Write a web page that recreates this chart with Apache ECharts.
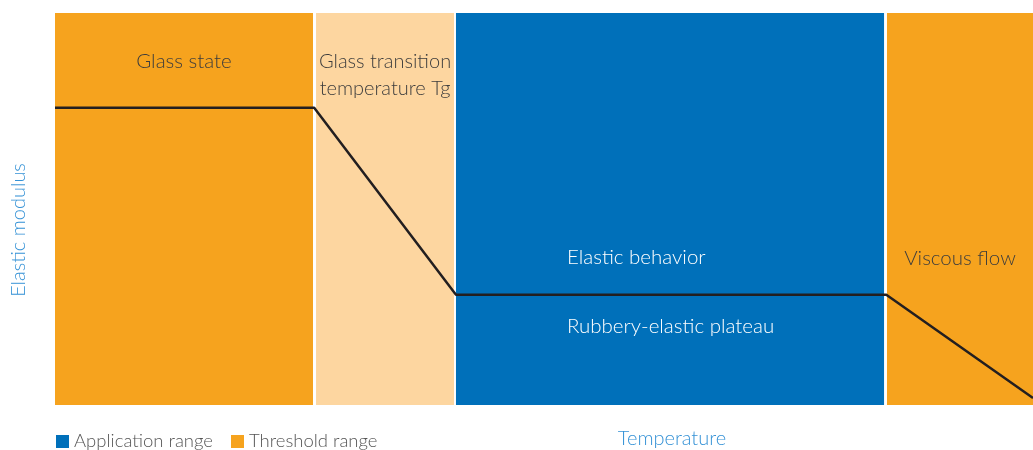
<!DOCTYPE html>
<html><head><meta charset="utf-8">
<script src="https://cdn.jsdelivr.net/npm/echarts@6/dist/echarts.min.js"></script>
<style>html,body{margin:0;padding:0;background:#fff}#c{width:1033px;height:450px}</style>
</head><body><div id="c"></div>
<script>
// Regions along temperature axis (0-100 scale)
const regionNames = ['Glass state', 'Glass transition\ntemperature Tg', 'Elastic behavior\n\n\nRubbery-elastic plateau', 'Viscous flow'];
const regionStart = [0, 26.69, 41.0, 85.07];
const regionEnd = [26.38, 40.80, 84.77, 100];
const regionGroup = ['Threshold range', 'Threshold range', 'Application range', 'Threshold range'];
// Elastic modulus curve
const curveTemp = [0, 26.5, 41.0, 85.0, 100];
const curveModulus = [75.8, 75.8, 28.1, 28.1, 1.8];

const FONT = 'Lato';
const orange = '#F6A31E', lightOrange = '#FDD6A0', blue = '#0070BA';
const regionColor = [orange, lightOrange, blue, orange];
const labelColor = ['#3d3d3d', '#3d3d3d', '#ffffff', '#3d3d3d'];

function areas(group) {
  const out = [];
  regionNames.forEach((n, i) => {
    if (regionGroup[i] !== group) return;
    let label;
    if (i === 2) {
      label = {show: true, position: 'insideTopLeft', distance: 0, offset: [111, 233], align: 'left', lineHeight: 23};
    } else if (i === 3) {
      label = {show: true, position: 'insideTop', offset: [0, 230]};
    } else {
      label = {show: true, position: 'insideTop', offset: [0, 30], lineHeight: 27};
    }
    label.formatter = n;
    label.color = labelColor[i];
    label.fontFamily = FONT;
    label.fontWeight = 300;
    label.fontSize = i === 1 ? 20 : 20.5;
    out.push([{xAxis: regionStart[i], itemStyle: {color: regionColor[i]}, label: label},
              {xAxis: regionEnd[i]}]);
  });
  return out;
}

const chart = echarts.init(document.getElementById('c'));
chart.setOption({
  animation: false,
  grid: {left: 55, right: 0, top: 13, bottom: 45, containLabel: false, outerBoundsMode: 'none'},
  legend: {
    data: ['Application range', 'Threshold range'],
    left: 51, top: 427, icon: 'rect', itemWidth: 13, itemHeight: 13, itemGap: 18,
    textStyle: {fontFamily: FONT, fontWeight: 300, fontSize: 18.5, color: '#555'}
  },
  xAxis: {
    type: 'value', min: 0, max: 100,
    axisLine: {show: false}, axisTick: {show: false}, axisLabel: {show: false}, splitLine: {show: false},
    name: 'Temperature', nameLocation: 'middle', nameGap: 24,
    nameTextStyle: {fontFamily: FONT, fontWeight: 300, fontSize: 20, color: '#3592D6', padding: [0, 0, 0, 256]}
  },
  yAxis: {
    type: 'value', min: 0, max: 100,
    axisLine: {show: false}, axisTick: {show: false}, axisLabel: {show: false}, splitLine: {show: false},
    name: 'Elastic modulus', nameLocation: 'middle', nameGap: 26,
    nameTextStyle: {fontFamily: FONT, fontWeight: 300, fontSize: 20, color: '#3592D6', padding: [0, 42, 0, 0]}
  },
  series: [
    {name: 'Threshold range', type: 'line', data: [], itemStyle: {color: orange}, silent: true,
     markArea: {silent: true, data: areas('Threshold range')}},
    {name: 'Application range', type: 'line', data: [], itemStyle: {color: blue}, silent: true,
     markArea: {silent: true, data: areas('Application range')}},
    {name: 'Elastic modulus', type: 'line', data: curveTemp.map((t, i) => [t, curveModulus[i]]),
     showSymbol: false, lineStyle: {color: '#231f20', width: 2.5}, z: 5}
  ]
});
</script></body></html>
